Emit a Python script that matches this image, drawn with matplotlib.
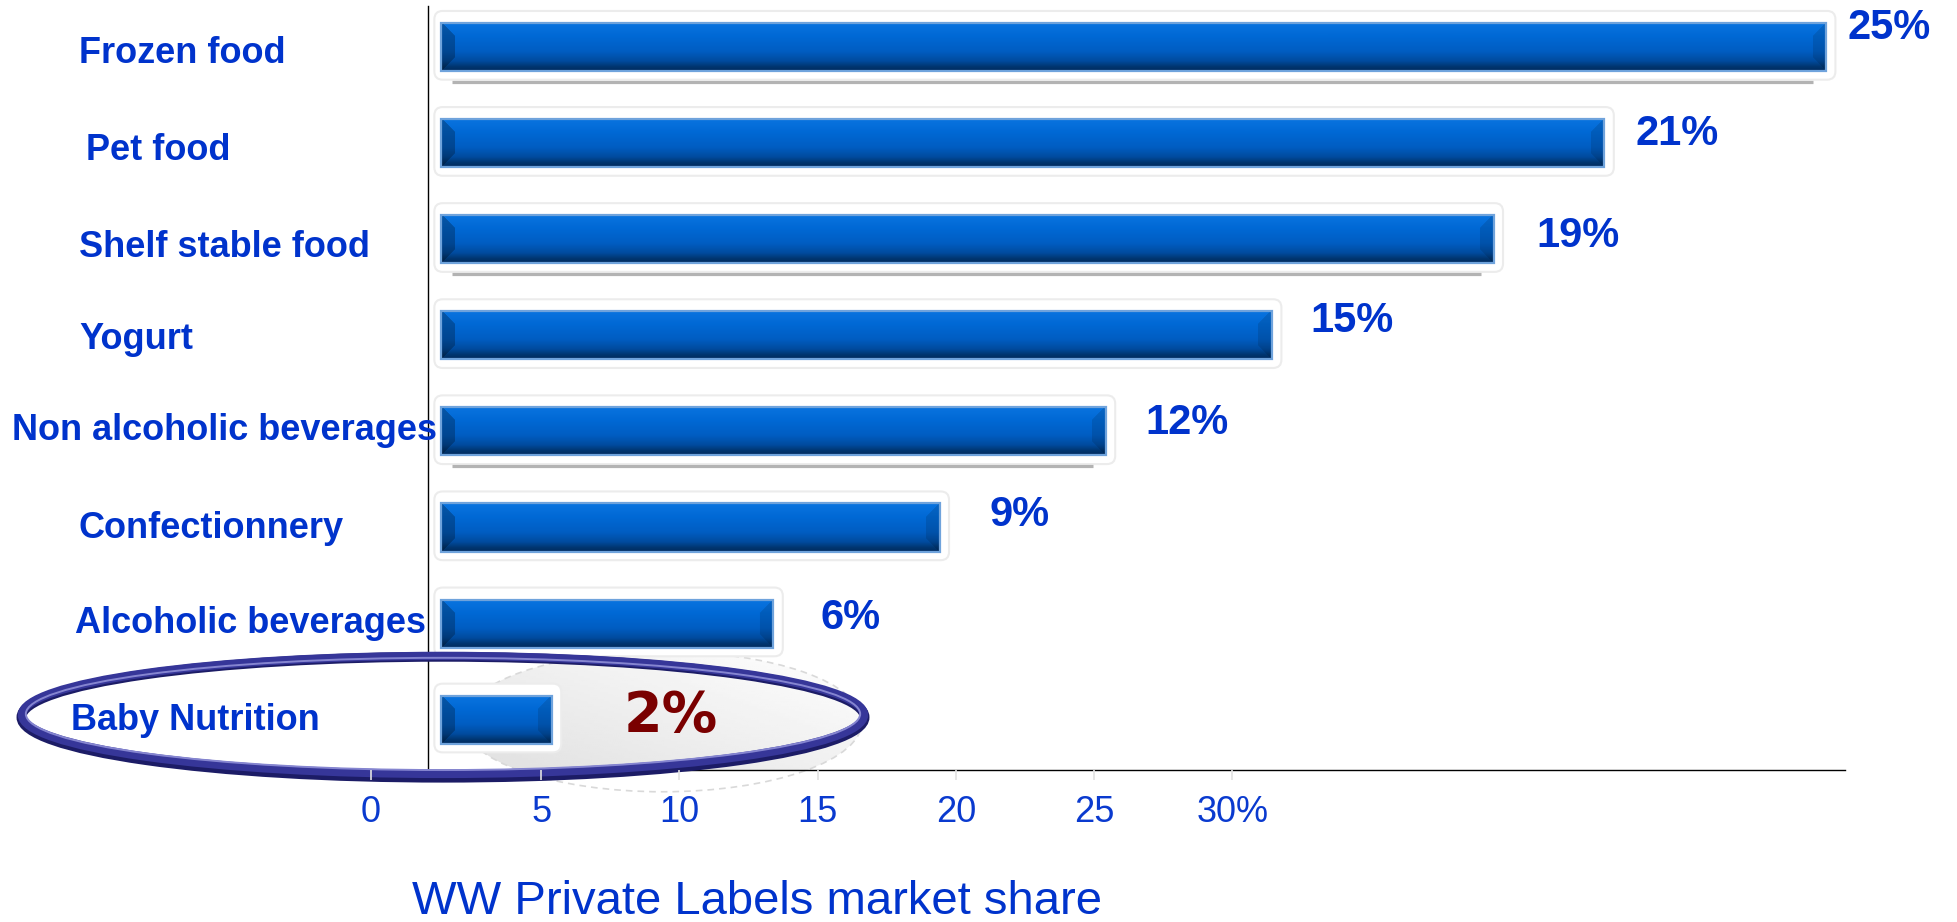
import matplotlib
matplotlib.use("Agg")
import matplotlib.pyplot as plt
import matplotlib.transforms as mtransforms
from matplotlib.patches import FancyBboxPatch, Ellipse
from matplotlib.colors import to_rgb
import numpy as np

# Доля частных марок по категориям
categories = ["Frozen food", "Pet food", "Shelf stable food", "Yogurt",
              "Non alcoholic beverages", "Confectionnery", "Alcoholic beverages",
              "Baby Nutrition"]
shares = [25, 21, 19, 15, 12, 9, 6, 2]
share_labels = ["25%", "21%", "19%", "15%", "12%", "9%", "6%", "2%"]
scale_values = [0, 5, 10, 15, 20, 25, 30]
scale_labels = ["0", "5", "10", "15", "20", "25", "30%"]
underlined = [0, 2, 4]
highlight = 7
title = "WW Private Labels market share"

# Разметка (в пикселях картинки 1957x922)
W, H = 1957, 922
PX_PER_PCT = 55.4
X_ZERO = 441
ROW0, ROW_STEP = 47, 96.1
label_x_px = [79, 86, 79, 79, 12, 79, 75, 71]
label_dy_px = [7, 7, 8, 4, -1, 1, 0, 1]
value_dx_px = [21, 31, 43, 38, 40, 50, 47, 72]
value_dy_px = [19, 9, 3, 14, 8, 13, 6, 4]
bar_h = 0.5

BLUE = "#0033cc"
plt.rcParams["font.family"] = ["Liberation Sans", "DejaVu Sans"]


def bar_image(w_px, h_px):
    """Объёмная заливка столбца: вертикальный градиент + скосы по краям"""
    stops = [(0.0, "#0a74e0"), (0.3, "#0068d4"), (0.6, "#005dc2"),
             (0.8, "#004b9e"), (0.92, "#00356f"), (1.0, "#002c60")]
    t = np.linspace(0, 1, h_px)
    pos = [s[0] for s in stops]
    rgb = np.array([to_rgb(s[1]) for s in stops])
    col = np.stack([np.interp(t, pos, rgb[:, k]) for k in range(3)], axis=1)
    img = np.repeat(col[:, None, :], w_px, axis=1)
    r = np.arange(h_px)[:, None]
    c = np.arange(w_px)[None, :]
    bw = 14
    left = (c < bw) & (c <= r) & (c <= h_px - 1 - r)
    cr = w_px - 1 - c
    right = (cr < bw) & (cr <= r) & (cr <= h_px - 1 - r)
    img[left] *= 0.75
    img[right] *= 0.88
    return np.clip(img, 0, 1)


fig = plt.figure(figsize=(W / 100, H / 100), dpi=100)
ax = fig.add_axes([428 / W, (H - 770) / H, (1845 - 428) / W, (770 - 6) / H])
ax.patch.set_visible(False)

rows = np.arange(len(categories))
aspect = PX_PER_PCT / ROW_STEP

# Мягкая тень под выделенной категорией
sh_c, sh_w, sh_h = (4.0, highlight + 0.02), 7.2, 1.46
shadow = Ellipse(sh_c, sh_w, sh_h, facecolor="none", edgecolor="#d9d9d9",
                 lw=1.2, ls=(0, (4, 3)), zorder=1.1, clip_on=False)
ax.add_patch(shadow)
gx, gy = np.meshgrid(np.linspace(0, 1, 200), np.linspace(0, 1, 60))
shade = 1 - 0.11 * np.clip(0.6 * gy + 0.6 * (1 - gx), 0, 1)
ax.imshow(shade, cmap="gray", vmin=0, vmax=1, aspect="auto",
          extent=(sh_c[0] - sh_w / 2, sh_c[0] + sh_w / 2,
                  sh_c[1] + sh_h / 2, sh_c[1] - sh_h / 2),
          zorder=1, clip_path=shadow, clip_on=True)

# Белые рамки вокруг столбцов
for i, v in zip(rows, shares):
    ax.add_patch(FancyBboxPatch((-0.12, i - 0.375), v + 0.29, 0.715,
                                boxstyle="round,pad=0,rounding_size=0.15",
                                mutation_aspect=aspect, facecolor="white",
                                edgecolor="#ececec", lw=1.5, zorder=2))

# Серые подчёркивания
for i in underlined:
    ax.plot([0.2, shares[i] - 0.23], [i + 0.36, i + 0.36], color="#b3b3b3",
            lw=2.3, solid_capstyle="butt", zorder=2.2)

# Столбцы
for i, v in zip(rows, shares):
    img = bar_image(int(round(v * PX_PER_PCT)), 48)
    ax.imshow(img, extent=(0, v, i + bar_h / 2, i - bar_h / 2), aspect="auto",
              interpolation="bilinear", zorder=3)
ax.barh(rows, shares, height=bar_h, facecolor="none", edgecolor="#6fa3dc",
        lw=1.6, zorder=4)

# Подписи значений
for i, v in zip(rows, shares):
    if i == highlight:
        style = dict(fontsize=40, color="#7a0000", family=["DejaVu Sans"])
    else:
        style = dict(fontsize=30, color=BLUE)
    ax.annotate(share_labels[i], xy=(v, i),
                xytext=(value_dx_px[i], value_dy_px[i]),
                textcoords="offset pixels", ha="left", va="center",
                fontweight="bold", zorder=6, annotation_clip=False, **style)

# Названия категорий
trans = mtransforms.blended_transform_factory(fig.transFigure, ax.transData)
for i, name in zip(rows, categories):
    ax.text(label_x_px[i] / W, i + label_dy_px[i] / ROW_STEP, name,
            transform=trans, ha="left", va="center", fontsize=26,
            fontweight="bold", color=BLUE, clip_on=False, zorder=6)

# Овал вокруг Baby Nutrition
cx, cy, ew, eh = (443 - X_ZERO) / PX_PER_PCT, highlight - 0.05, 15.2, 1.228
ax.add_patch(Ellipse((cx, cy + 0.025), ew + 0.02, eh + 0.03, fill=False,
                     edgecolor="#1c1c66", lw=7, zorder=5, clip_on=False))
ax.add_patch(Ellipse((cx, cy), ew, eh, fill=False, edgecolor="#363699",
                     lw=6, zorder=5, clip_on=False))
ax.add_patch(Ellipse((cx, cy - 0.01), ew - 0.14, eh - 0.06, fill=False,
                     edgecolor="#8585d0", lw=1.4, zorder=5, clip_on=False))

ax.set_xlim((428 - X_ZERO) / PX_PER_PCT, (1845 - X_ZERO) / PX_PER_PCT)
ax.set_ylim((770 - ROW0) / ROW_STEP, (6 - ROW0) / ROW_STEP)
ax.set_xticks([])
ax.set_yticks([])
for side in ("top", "right"):
    ax.spines[side].set_visible(False)
for side in ("left", "bottom"):
    ax.spines[side].set_color("black")
    ax.spines[side].set_linewidth(1.0)
ax.spines["bottom"].set_bounds((412 - X_ZERO) / PX_PER_PCT,
                               (1845 - X_ZERO) / PX_PER_PCT)

# Шкала процентов под осью
s_x0, s_k = 403, 27.64
sax = fig.add_axes([(s_x0 - 2 * s_k) / W, (H - 770) / H, 33 * s_k / W, 0.001])
sax.patch.set_visible(False)
for s in sax.spines.values():
    s.set_visible(False)
sax.set_xlim(-2, 31)
sax.set_yticks([])
tick_pos = [v if v else -1.16 for v in scale_values]
sax.set_xticks(tick_pos, scale_labels)
sax.tick_params(axis="x", length=7, width=1.2, color="#e2e2e2", pad=11,
                labelsize=26, labelcolor="#0a3acf")

fig.text(757 / W, (H - 914) / H, title, ha="center", va="baseline",
         fontsize=34, color=BLUE)

fig.savefig("out.png", dpi=100)
